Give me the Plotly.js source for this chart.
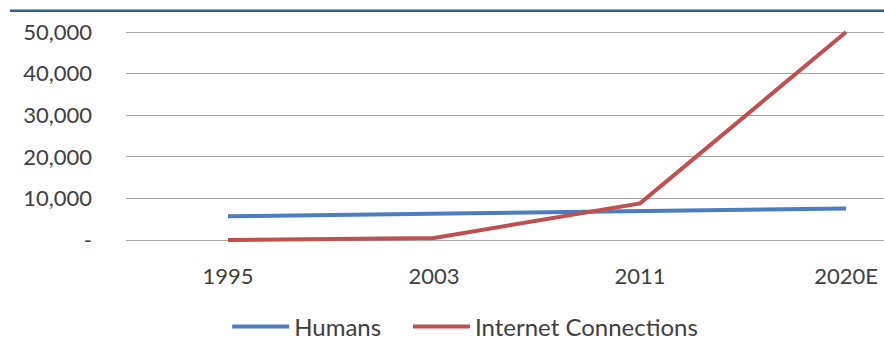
<!DOCTYPE html>
<html>
<head>
<meta charset="utf-8">
<script src="https://cdn.plot.ly/plotly-3.0.1.min.js"></script>
<style>html,body{margin:0;padding:0;background:#fff;}#chart{width:884px;height:349px;}</style>
</head>
<body>
<div id="chart"></div>
<script>
const categories = ["1995", "2003", "2011", "2020E"];
const humans = [5700, 6300, 7000, 7600];
const internetConnections = [0, 500, 8800, 50000];
const yTickVals = [0, 10000, 20000, 30000, 40000, 50000];
const yTickText = ["-", "10,000", "20,000", "30,000", "40,000", "50,000"];

const font = {family: "Lato, 'Open Sans', sans-serif", size: 22, color: "#404040"};
const legendFont = {family: "Lato, 'Open Sans', sans-serif", size: 24, color: "#404040"};

const traces = [
  {x: categories, y: humans, name: "Humans", type: "scatter", mode: "lines",
   line: {color: "#4A7EC1", width: 4}, legend: "legend"},
  {x: categories, y: internetConnections, name: "Internet Connections", type: "scatter", mode: "lines",
   line: {color: "#C0504D", width: 4}, legend: "legend2"}
];

const legendBase = {orientation: "h", xref: "container", yref: "container", xanchor: "left",
                    y: 0.063, yanchor: "middle", font: legendFont, itemwidth: 57,
                    bgcolor: "rgba(0,0,0,0)"};

const layout = {
  width: 884, height: 349,
  margin: {l: 126, r: 0, t: 20, b: 97},
  paper_bgcolor: "#fff", plot_bgcolor: "#fff",
  font: font,
  showlegend: true,
  legend: Object.assign({}, legendBase, {x: 0.257}),
  legend2: Object.assign({}, legendBase, {x: 0.4615}),
  xaxis: {type: "category", range: [-0.495, 3.184], showgrid: false, zeroline: false,
          showline: false, ticks: "", ticklabelstandoff: 9, tickfont: font},
  yaxis: {range: [-2885, 52885], tickvals: yTickVals, ticktext: yTickText, showgrid: true,
          gridcolor: "#A6A6A6", gridwidth: 1, zeroline: false, showline: false, ticks: "",
          ticklabelstandoff: 33, tickfont: font},
  shapes: [
    {type: "line", xref: "paper", yref: "paper", x0: -0.153, x1: 1, y0: 1.04, y1: 1.04,
     line: {color: "#2B5F8C", width: 2.5}}
  ]
};
Plotly.newPlot("chart", traces, layout, {displayModeBar: false, staticPlot: true});
</script>
</body>
</html>
